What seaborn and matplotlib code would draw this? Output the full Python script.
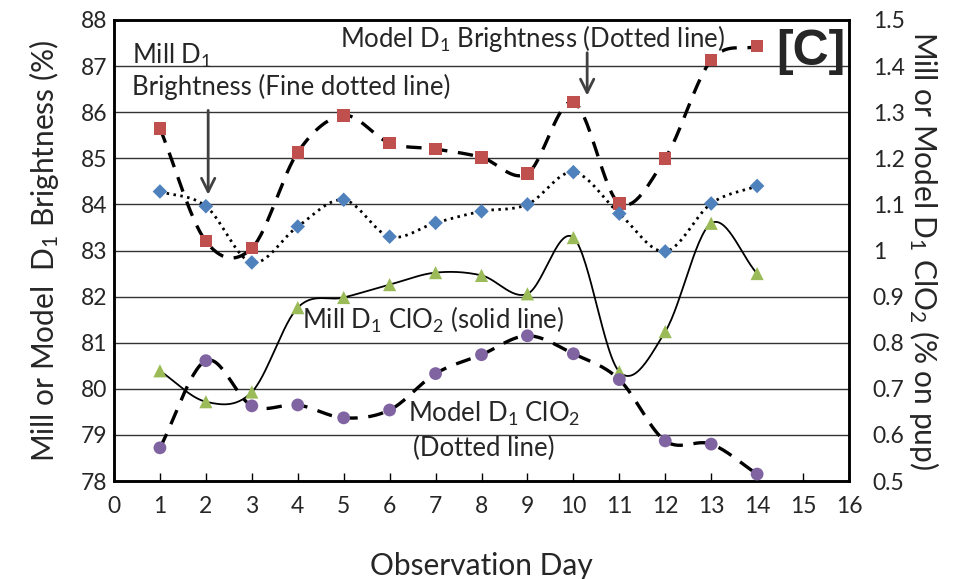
import numpy as np
import pandas as pd
import matplotlib
matplotlib.use("Agg")
import matplotlib.pyplot as plt
import seaborn as sns

sns.set_theme(style="white")
plt.rcParams['font.family'] = ['Lato', 'DejaVu Sans']
plt.rcParams['mathtext.default'] = 'regular'

# -- data -- #
days = list(range(1, 15))
model_brightness = [85.65, 83.2, 83.05, 85.13, 85.93, 85.33, 85.2, 85.02, 84.67, 86.22, 84.02, 85.0, 87.13, 87.43]
mill_brightness = [84.28, 83.96, 82.74, 83.52, 84.1, 83.3, 83.6, 83.85, 84.0, 84.7, 83.8, 82.98, 84.02, 84.4]
mill_clo2 = [0.739, 0.672, 0.693, 0.876, 0.898, 0.926, 0.952, 0.946, 0.906, 1.028, 0.737, 0.824, 1.059, 0.95]
model_clo2 = [0.572, 0.761, 0.663, 0.665, 0.637, 0.654, 0.733, 0.774, 0.815, 0.776, 0.72, 0.587, 0.58, 0.515]

x_ticks = list(range(0, 17))
left_ticks = list(range(78, 89))
right_ticks = [0.5, 0.6, 0.7, 0.8, 0.9, 1.0, 1.1, 1.2, 1.3, 1.4, 1.5]

colors = {"red": "#C0504D", "blue": "#4F81BD", "green": "#9BBB59", "purple": "#8064A2"}


def smooth(x, y, n=30):
    """Catmull-Rom style smoothing, like the Excel 'smoothed line' option"""
    x = np.asarray(x, float)
    y = np.asarray(y, float)
    m = np.zeros_like(y)
    m[1:-1] = (y[2:] - y[:-2]) / 2
    m[0] = y[1] - y[0]
    m[-1] = y[-1] - y[-2]
    xs, ys = [], []
    for i in range(len(x) - 1):
        t = np.linspace(0, 1, n, endpoint=False)
        h00 = 2 * t**3 - 3 * t**2 + 1
        h10 = t**3 - 2 * t**2 + t
        h01 = -2 * t**3 + 3 * t**2
        h11 = t**3 - t**2
        ys.append(h00 * y[i] + h10 * m[i] + h01 * y[i + 1] + h11 * m[i + 1])
        xs.append(x[i] + t * (x[i + 1] - x[i]))
    xs.append([x[-1]])
    ys.append([y[-1]])
    return pd.DataFrame({"x": np.concatenate(xs), "y": np.concatenate(ys)})


fig = plt.figure(figsize=(9.64, 5.79), dpi=100)
ax = fig.add_axes([114 / 964, 1 - 481 / 579, (849 - 114) / 964, (481 - 20) / 579])
ax2 = ax.twinx()

# left axis: brightness
mb = smooth(days, model_brightness)
sns.lineplot(data=mb, x="x", y="y", ax=ax, color="black", linewidth=2.4,
             linestyle=(0, (4.6, 3.2)), sort=False, zorder=3)
mlb = smooth(days, mill_brightness)
sns.lineplot(data=mlb, x="x", y="y", ax=ax, color="black", linewidth=2.0,
             linestyle=(0, (0.9, 1.6)), sort=False, zorder=3)
sns.scatterplot(x=days, y=model_brightness, ax=ax, marker="s", s=80,
                color=colors["red"], edgecolor="none", zorder=4)
sns.scatterplot(x=days, y=mill_brightness, ax=ax, marker="D", s=55,
                color=colors["blue"], edgecolor="none", zorder=4)

# right axis: ClO2
mc = smooth(days, mill_clo2)
sns.lineplot(data=mc, x="x", y="y", ax=ax2, color="black", linewidth=1.3,
             sort=False, zorder=3)
mdc = smooth(days, model_clo2)
sns.lineplot(data=mdc, x="x", y="y", ax=ax2, color="black", linewidth=2.4,
             linestyle=(0, (4.6, 3.2)), sort=False, zorder=3)
sns.scatterplot(x=days, y=mill_clo2, ax=ax2, marker="^", s=90,
                color=colors["green"], edgecolor="none", zorder=4)
sns.scatterplot(x=days, y=model_clo2, ax=ax2, marker="o", s=85,
                color=colors["purple"], edgecolor="none", zorder=4)

# axes
ax.set_xlim(0, 16)
ax.set_ylim(78, 88)
ax2.set_ylim(0.5, 1.5)
ax.set_xticks(x_ticks)
ax.set_yticks(left_ticks)
ax2.set_yticks(right_ticks)
ax2.set_yticklabels([f"{v:g}" for v in right_ticks])

ax.yaxis.grid(True, color="#333333", linewidth=1.0)
ax.set_axisbelow(True)
for a in (ax, ax2):
    for sp in a.spines.values():
        sp.set_color("black")
        sp.set_linewidth(1.8)

ax.tick_params(axis="x", direction="in", length=6, width=1, color="black",
               labelsize=16.5, pad=11, bottom=True)
ax.tick_params(axis="y", length=0, labelsize=16.5, pad=5)
ax2.tick_params(axis="y", length=0, labelsize=16.5, pad=17)

ax.set_xlabel("Observation Day", fontsize=21.5, labelpad=25)
ax.set_ylabel("Mill or Model  D$_1$ Brightness (%)", fontsize=21.5, labelpad=14)
ax2.set_ylabel("Mill or Model D$_1$ ClO$_2$ (% on pup)", fontsize=21.5,
               rotation=270, labelpad=26)

# annotations
ax.text(0.4, 87.22, "Mill D$_1$", fontsize=18.5, va="center")
ax.text(0.4, 86.55, "Brightness (Fine dotted line)", fontsize=18.5, va="center")
ax.annotate("", xy=(2.05, 84.15), xytext=(2.05, 86.1),
            arrowprops=dict(arrowstyle="->", color="#404040", lw=2, mutation_scale=24))
ax.text(9.1, 87.6, "Model D$_1$ Brightness (Dotted line)", fontsize=18.5,
        va="center", ha="center")
ax.annotate("", xy=(10.3, 86.3), xytext=(10.3, 87.35),
            arrowprops=dict(arrowstyle="->", color="#404040", lw=2, mutation_scale=24))
ax.text(15.92, 87.3, "[C]", fontsize=36, fontweight="bold", ha="right", va="center",
        family=["Liberation Sans", "DejaVu Sans"])
ax.text(4.1, 81.5, "Mill D$_1$ ClO$_2$ (solid line)", fontsize=18.5, va="center")
ax.text(6.4, 79.45, "Model D$_1$ ClO$_2$", fontsize=18.5, va="center")
ax.text(6.5, 78.7, "(Dotted line)", fontsize=18.5, va="center")

fig.savefig("out.png", dpi=100)
plt.close()
